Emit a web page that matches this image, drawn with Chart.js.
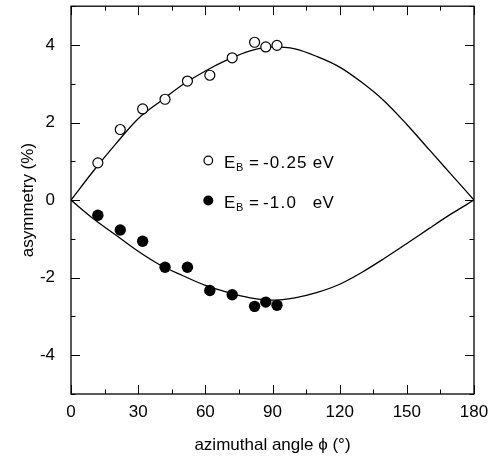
<!DOCTYPE html>
<html>
<head>
<meta charset="utf-8">
<script src="https://cdn.jsdelivr.net/npm/chart.js@4.4.1/dist/chart.umd.min.js"></script>
<style>
  html, body { margin: 0; padding: 0; background: #fff; }
</style>
</head>
<body>
<canvas id="myChart" width="502" height="458"></canvas>
<script>
// fitted curves, every 10 degrees
const fitAngles = [0, 10, 20, 30, 40, 50, 60, 70, 80, 90, 100, 110, 120, 130, 140, 150, 160, 170, 180];
const fitUpper = [0, 0.75, 1.45, 2.1, 2.55, 2.98, 3.33, 3.62, 3.85, 3.95, 3.9, 3.7, 3.43, 3.03, 2.55, 1.95, 1.3, 0.65, 0];
const fitLower = [0, -0.48, -0.9, -1.32, -1.68, -1.95, -2.2, -2.38, -2.52, -2.58, -2.52, -2.38, -2.17, -1.86, -1.5, -1.12, -0.73, -0.35, 0];

// measured points
const dataAngles = [12, 22, 32, 42, 52, 62, 72, 82, 87, 92];
const openValues = [0.96, 1.82, 2.35, 2.6, 3.07, 3.22, 3.67, 4.07, 3.95, 3.99];   // E_B = -0.25 eV
const filledValues = [-0.39, -0.77, -1.06, -1.73, -1.73, -2.33, -2.44, -2.74, -2.63, -2.71]; // E_B = -1.0 eV

const xTickLabels = [0, 30, 60, 90, 120, 150, 180];
const yTickLabels = [-4, -2, 0, 2, 4];

const FONT = '"Liberation Sans", Arial, sans-serif';

const pts = (xs, ys) => xs.map((x, i) => ({ x: x, y: ys[i] }));

// frame, inward ticks on all sides and the legend
const framePlugin = {
  id: 'frame',
  afterDatasetsDraw(chart) {
    const { ctx, chartArea: a, scales: { x, y } } = chart;
    ctx.save();
    ctx.strokeStyle = '#000';
    ctx.lineWidth = 1.3;
    ctx.strokeRect(a.left, a.top, a.right - a.left, a.bottom - a.top);

    ctx.lineWidth = 1;
    ctx.beginPath();
    for (let v = 0; v <= 180; v += 15) {
      const px = Math.round(x.getPixelForValue(v)) + 0.5;
      const len = v % 30 === 0 ? 9 : 4.5;
      ctx.moveTo(px, a.bottom); ctx.lineTo(px, a.bottom - len);
      ctx.moveTo(px, a.top); ctx.lineTo(px, a.top + len);
    }
    for (let v = -5; v <= 5; v += 1) {
      const py = Math.round(y.getPixelForValue(v)) + 0.5;
      const len = v % 2 === 0 ? 9 : 4.5;
      ctx.moveTo(a.left, py); ctx.lineTo(a.left + len, py);
      ctx.moveTo(a.right, py); ctx.lineTo(a.right - len, py);
    }
    ctx.stroke();

    // legend: E_B = value eV
    const rows = [
      { y: 168, value: '-0.25', filled: false },
      { y: 208, value: '-1.0', filled: true }
    ];
    ctx.fillStyle = '#000';
    ctx.textBaseline = 'alphabetic';
    ctx.textAlign = 'left';
    rows.forEach(r => {
      ctx.beginPath();
      if (r.filled) {
        ctx.arc(208.3, r.y - 7.5, 5, 0, Math.PI * 2);
        ctx.fill();
      } else {
        ctx.arc(208.3, r.y - 7.5, 4.3, 0, Math.PI * 2);
        ctx.lineWidth = 1.2;
        ctx.stroke();
      }
      ctx.letterSpacing = '0px';
      ctx.font = '17px ' + FONT;
      ctx.fillText('E', 224, r.y);
      ctx.font = '11px ' + FONT;
      ctx.fillText('B', 236, r.y + 3);
      ctx.font = '17px ' + FONT;
      ctx.fillText('=', 249, r.y);
      ctx.letterSpacing = '1.2px';
      ctx.fillText(r.value, 263, r.y);
      ctx.letterSpacing = '0.3px';
      ctx.fillText('eV', 312.7, r.y);
    });
    ctx.restore();
  }
};

const ctx = document.getElementById('myChart').getContext('2d');

const myChart = new Chart(ctx, {
  type: 'scatter',
  data: {
    datasets: [
      {
        label: 'E_B = -0.25 eV',
        data: pts(dataAngles, openValues),
        pointRadius: 5,
        pointBorderWidth: 1.2,
        pointBackgroundColor: '#fff',
        pointBorderColor: '#000',
        order: 0
      },
      {
        label: 'E_B = -1.0 eV',
        data: pts(dataAngles, filledValues),
        pointRadius: 5.7,
        pointBorderWidth: 0,
        pointBackgroundColor: '#000',
        pointBorderColor: '#000',
        order: 0
      },
      {
        type: 'line',
        label: 'fit upper',
        data: pts(fitAngles, fitUpper),
        borderColor: '#000',
        borderWidth: 1.3,
        pointRadius: 0,
        cubicInterpolationMode: 'monotone',
        fill: false,
        order: 1
      },
      {
        type: 'line',
        label: 'fit lower',
        data: pts(fitAngles, fitLower),
        borderColor: '#000',
        borderWidth: 1.3,
        pointRadius: 0,
        cubicInterpolationMode: 'monotone',
        fill: false,
        order: 1
      }
    ]
  },
  options: {
    responsive: false,
    animation: false,
    layout: { padding: { left: 0, right: 28, top: 6, bottom: 0 } },
    plugins: {
      legend: { display: false },
      tooltip: { enabled: false }
    },
    scales: {
      x: {
        type: 'linear',
        min: 0,
        max: 180,
        grid: { display: false, drawTicks: false },
        border: { display: false },
        ticks: {
          stepSize: 15,
          autoSkip: false,
          maxRotation: 0,
          padding: 8,
          color: '#000',
          font: { family: FONT, size: 17 },
          callback: v => xTickLabels.includes(v) ? String(v) : null
        },
        title: {
          display: true,
          text: 'azimuthal angle \u03D5 (\u00B0)',
          color: '#000',
          font: { family: FONT, size: 17 },
          padding: { top: 0, bottom: 2 }
        },
        afterFit: s => { s.height = 64; s.paddingLeft = 0; s.paddingRight = 0; }
      },
      y: {
        min: -5,
        max: 5,
        grid: { display: false, drawTicks: false },
        border: { display: false },
        ticks: {
          stepSize: 1,
          autoSkip: false,
          padding: 16,
          color: '#000',
          font: { family: FONT, size: 17 },
          callback: v => yTickLabels.includes(v) ? String(v) : null
        },
        title: {
          display: true,
          text: 'asymmetry (%)',
          color: '#000',
          font: { family: FONT, size: 17 },
          padding: { top: 18, bottom: 0 }
        },
        afterFit: s => { s.width = 71; s.paddingTop = 0; s.paddingBottom = 0; }
      }
    }
  },
  plugins: [framePlugin]
});
</script>
</body>
</html>
